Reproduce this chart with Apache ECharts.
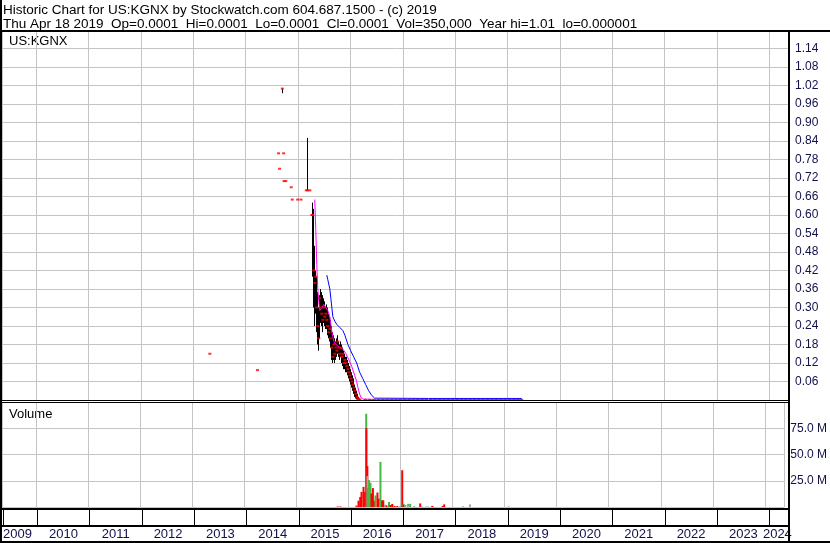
<!DOCTYPE html>
<html><head><meta charset="utf-8">
<script src="https://cdn.jsdelivr.net/npm/echarts@6/dist/echarts.min.js"></script>
<style>html,body{margin:0;padding:0;background:#fff;overflow:hidden}#c{width:830px;height:543px}</style>
</head><body><div id="c"></div>
<script>
// ---------- text ----------
const headerLine1 = 'Historic Chart for US:KGNX by Stockwatch.com 604.687.1500 - (c) 2019';
const headerLine2 = 'Thu Apr 18 2019  Op=0.0001  Hi=0.0001  Lo=0.0001  Cl=0.0001  Vol=350,000  Year hi=1.01  lo=0.000001';
const symbolLabel = 'US:KGNX';
const volumeLabel = 'Volume';
const yearLabels = ['2009','2010','2011','2012','2013','2014','2015','2016','2017','2018','2019','2020','2021','2022','2023','2024'];
const yearLabelPos = [2009.62,2010.5,2011.5,2012.5,2013.5,2014.5,2015.5,2016.5,2017.5,2018.5,2019.5,2020.5,2021.5,2022.5,2023.5,2024.15];

// ---------- price data ----------
const priceDates = [
 '2013-04-27','2014-03-25','2014-08-19','2014-08-26','2014-09-14','2014-09-23','2014-09-26','2014-10-08',
 '2014-11-15','2014-11-22','2014-12-30','2015-01-22','2015-02-28','2015-03-10','2015-03-25','2015-04-08',
 '2015-04-14','2015-04-21','2015-04-28','2015-05-05','2015-05-12','2015-05-19','2015-05-26','2015-06-02',
 '2015-06-09','2015-06-16','2015-06-23','2015-06-30','2015-07-07','2015-07-14','2015-07-21','2015-07-28',
 '2015-08-04','2015-08-11','2015-08-18','2015-08-25','2015-09-01','2015-09-08','2015-09-15','2015-09-22',
 '2015-09-29','2015-10-06','2015-10-13','2015-10-20','2015-10-27','2015-11-03','2015-11-10','2015-11-17',
 '2015-11-24','2015-12-01','2015-12-08','2015-12-15','2015-12-22','2015-12-29','2016-01-05','2016-01-12',
 '2016-01-19','2016-01-26','2016-02-02','2016-02-09','2016-02-16','2016-02-23','2016-03-01','2016-03-08',
 '2016-04-15','2016-05-15','2016-06-15','2016-07-15','2016-08-15','2016-09-15','2016-10-15','2016-11-15','2016-12-15',
 '2017-01-15','2017-02-15','2017-03-15','2017-04-15','2017-05-15','2017-06-15','2017-07-15','2017-08-15','2017-09-15','2017-10-15','2017-11-15','2017-12-15',
 '2018-01-15','2018-02-15','2018-03-15','2018-04-15','2018-05-15','2018-06-15','2018-07-15','2018-08-15','2018-09-15','2018-10-15','2018-11-15','2018-12-15',
 '2019-01-15','2019-02-15','2019-03-15','2019-04-10'
];
const priceHigh = [
 0.15,0.097,0.80,0.75,1.01,0.80,0.71,0.71,
 0.69,0.65,0.65,0.65,0.68,0.85,0.68,0.60,
 0.64,0.62,0.50,0.42,0.40,0.35,0.30,0.34,
 0.36,0.35,0.34,0.33,0.32,0.30,0.31,0.30,
 0.28,0.27,0.26,0.24,0.22,0.21,0.20,0.19,
 0.20,0.21,0.19,0.18,0.19,0.18,0.17,0.16,
 0.15,0.14,0.14,0.13,0.12,0.11,0.10,0.09,
 0.08,0.07,0.05,0.04,0.03,0.02,0.01,0.005,
 0.0008,0.0006,0.0005,0.0005,0.0004,0.0004,0.0003,0.0003,0.0003,
 0.0003,0.0002,0.0002,0.0002,0.0002,0.0002,0.0002,0.0002,0.0002,0.0002,0.0002,0.0002,
 0.0001,0.0001,0.0001,0.0001,0.0001,0.0001,0.0001,0.0001,0.0001,0.0001,0.0001,0.0001,
 0.0001,0.0001,0.0001,0.0001
];
const priceLow = [
 0.15,0.097,0.80,0.75,0.995,0.80,0.71,0.71,
 0.69,0.65,0.65,0.65,0.68,0.68,0.68,0.60,
 0.40,0.30,0.24,0.28,0.22,0.18,0.16,0.20,
 0.25,0.24,0.22,0.25,0.24,0.23,0.23,0.21,
 0.20,0.19,0.17,0.13,0.12,0.13,0.12,0.13,
 0.14,0.15,0.14,0.13,0.14,0.12,0.11,0.10,
 0.10,0.09,0.09,0.08,0.07,0.06,0.05,0.04,
 0.03,0.02,0.01,0.005,0.002,0.001,0.0005,0.0003,
 0.0003,0.0003,0.0002,0.0002,0.0002,0.0002,0.0002,0.0002,0.0002,
 0.0001,0.0001,0.0001,0.0001,0.0001,0.0001,0.0001,0.0001,0.0001,0.0001,0.0001,0.0001,
 0.0001,0.0001,0.0001,0.0001,0.0001,0.0001,0.0001,0.0001,0.0001,0.0001,0.0001,0.0001,
 0.0001,0.0001,0.0001,0.0001
];
const priceClose = [
 0.15,0.097,0.80,0.75,1.01,0.80,0.71,0.71,
 0.69,0.65,0.65,0.65,0.68,0.68,0.68,0.60,
 0.60,0.42,0.38,0.40,0.30,0.24,0.20,0.33,
 0.30,0.28,0.26,0.30,0.27,0.28,0.26,0.24,
 0.22,0.23,0.20,0.17,0.14,0.18,0.15,0.17,
 0.16,0.19,0.17,0.15,0.17,0.14,0.15,0.12,
 0.13,0.12,0.11,0.10,0.09,0.08,0.07,0.06,
 0.05,0.04,0.03,0.02,0.01,0.005,0.002,0.001,
 0.0005,0.0004,0.0004,0.0003,0.0003,0.0003,0.0002,0.0002,0.0002,
 0.0002,0.0002,0.0001,0.0001,0.0001,0.0001,0.0001,0.0001,0.0001,0.0001,0.0001,0.0001,
 0.0001,0.0001,0.0001,0.0001,0.0001,0.0001,0.0001,0.0001,0.0001,0.0001,0.0001,0.0001,
 0.0001,0.0001,0.0001,0.0001
];

// moving averages
const maShortDates = ['2015-04-28','2015-05-05','2015-05-12','2015-05-19','2015-05-26','2015-06-02','2015-06-16','2015-06-30',
 '2015-07-14','2015-07-28','2015-08-11','2015-08-25','2015-09-08','2015-09-22','2015-10-06','2015-10-20','2015-11-10',
 '2015-12-01','2015-12-22','2016-01-10','2016-01-31','2016-02-14','2016-02-28','2016-03-13','2016-03-27',
 '2016-06-30','2017-06-30','2018-06-30','2019-04-10'];
const maShortValues = [0.65,0.55,0.44,0.36,0.32,0.29,0.30,0.31,
 0.30,0.29,0.27,0.22,0.19,0.18,0.175,0.17,0.165,
 0.15,0.13,0.11,0.08,0.06,0.03,0.01,0.003,
 0.002,0.002,0.002,0.002];
const maLongDates = ['2015-07-21','2015-07-28','2015-08-11','2015-08-18','2015-09-01','2015-09-15','2015-09-29','2015-10-20',
 '2015-11-10','2015-11-24','2015-12-15','2016-01-03','2016-01-24','2016-02-14','2016-03-06','2016-03-27','2016-04-17',
 '2016-05-08','2016-05-29','2016-06-19','2016-06-26','2017-06-30','2018-06-30','2019-04-10'];
const maLongValues = [0.405,0.39,0.36,0.33,0.27,0.255,0.245,0.235,
 0.225,0.21,0.18,0.16,0.14,0.12,0.09,0.07,0.05,
 0.03,0.015,0.006,0.005,0.005,0.005,0.005];

// ---------- volume data (millions) ----------
const volDates = ['2015-10-19','2015-11-07','2016-02-28','2016-03-13','2016-03-25','2016-04-03','2016-04-17','2016-04-28',
 '2016-05-06','2016-05-07','2016-05-14','2016-05-15','2016-05-16','2016-05-26','2016-06-05','2016-06-12','2016-06-22',
 '2016-07-01','2016-07-10','2016-07-24','2016-08-02','2016-08-14','2016-08-25','2016-08-26','2016-09-03','2016-09-15',
 '2016-09-16','2016-09-26','2016-10-13','2016-10-24','2016-11-05','2016-11-21','2016-12-10','2016-12-31','2017-01-14',
 '2017-01-23','2017-01-24','2017-02-04','2017-02-05','2017-02-25','2017-02-26','2017-03-11','2017-04-08','2017-05-20',
 '2017-05-30','2017-07-01','2017-07-15','2017-08-12','2017-08-13','2017-10-24','2017-11-04','2018-03-16','2018-05-04','2019-01-28'];
const volValues = [0.5,0.5,1.4,6,9.6,14.4,19.2,14.4,
 88.8,75,39,29.4,18,25.6,23,12.8,18,
 6,11,13.8,8,43,6.5,6,6.4,2,
 2,1.5,4.8,2,2.9,1,1,1,35,
 3,2,2,1.5,3,1.5,3,1,3.4,
 1,0.5,0.5,1,1,1,2.5,0.5,2.5,0.5];
const volDir = ['d','d','d','d','d','d','d','d',
 'u','d','d','n','u','u','u','d','d',
 'd','u','d','d','u','u','d','d','u',
 'n','d','u','d','d','d','d','n','d',
 'u','d','u','n','u','n','u','n','d',
 'n','n','n','n','d','d','d','u','n','n'];

// ---------- build ----------
function toYear(s){const p=s.split('-').map(Number);const t=Date.UTC(p[0],p[1]-1,p[2]),a=Date.UTC(p[0],0,1),b=Date.UTC(p[0]+1,0,1);return p[0]+(t-a)/(b-a);}
const X_MIN = 2009.351, X_MAX = 2024.372;
const GRID = '#c4c4c4', LBL = '#10104a';
const FONT = '"Liberation Sans", Arial, sans-serif';
const dirColor = {d:'#ff0000', u:'#44b844', n:'#a8a8a8'};

const candleData = priceDates.map((d,i)=>[toYear(d), priceClose[i], priceClose[i], priceLow[i], priceHigh[i]]);
const closeData = priceDates.map((d,i)=>[toYear(d), priceClose[i]]);
const maShortData = maShortDates.map((d,i)=>[toYear(d), maShortValues[i]]);
const maLongData = maLongDates.map((d,i)=>[toYear(d), maLongValues[i]]);
const volData = volDates.map((d,i)=>({value:[toYear(d), volValues[i]], itemStyle:{color:dirColor[volDir[i]]}}));

function xAx(grid, split){
  return {type:'value', gridIndex:grid, min:X_MIN, max:X_MAX, splitNumber:15,
    axisLine:{show:false}, axisTick:{show:false}, axisLabel:{show:false},
    splitLine:{show:true, lineStyle:{color:split, width:1}}};
}

const chart = echarts.init(document.getElementById('c'), null, {renderer:'canvas'});
chart.setOption({
  animation:false,
  backgroundColor:'#ffffff',
  grid:[
    {left:2, right:41, top:30, height:370},
    {left:2, right:41, top:402, height:105},
    {left:2, right:41, top:510, height:15}
  ],
  xAxis:[
    xAx(0, GRID), xAx(1, GRID), xAx(2, '#000000'),
    {type:'value', gridIndex:2, min:X_MIN, max:X_MAX, position:'bottom',
     axisLine:{show:false}, axisTick:{show:false}, splitLine:{show:false},
     axisLabel:{show:true, customValues:yearLabelPos, margin:3, color:LBL,
       fontFamily:FONT, fontSize:13,
       formatter:(v)=>{const i=yearLabelPos.findIndex(p=>Math.abs(p-v)<1e-6);return i>=0?yearLabels[i]:'';}}}
  ],
  yAxis:[
    {type:'value', gridIndex:0, position:'right', min:0, max:1.2, interval:0.06,
     axisLine:{show:false}, axisTick:{show:false},
     splitLine:{show:true, lineStyle:{color:GRID}},
     axisLabel:{margin:6, color:LBL, fontFamily:FONT, fontSize:12, showMinLabel:false, showMaxLabel:false,
       formatter:(v)=>v.toFixed(2)}},
    {type:'value', gridIndex:1, position:'right', min:0, max:100, interval:25,
     axisLine:{show:false}, axisTick:{show:false},
     splitLine:{show:true, lineStyle:{color:GRID}},
     axisLabel:{margin:6, color:LBL, fontFamily:FONT, fontSize:12, showMinLabel:false, showMaxLabel:false,
       formatter:(v)=>v.toFixed(1)+' M'}},
    {type:'value', gridIndex:2, min:0, max:1, show:false, splitLine:{show:false}}
  ],
  series:[
    {type:'candlestick', xAxisIndex:0, yAxisIndex:0, data:candleData, barWidth:1,
     encode:{x:0, y:[1,2,3,4]},
     itemStyle:{color:'#000', color0:'#000', borderColor:'#000', borderColor0:'#000', borderWidth:1},
     emphasis:{disabled:true}, silent:true, z:2},
    {type:'line', xAxisIndex:0, yAxisIndex:0, data:maLongData, showSymbol:false, symbol:'none',
     lineStyle:{color:'#0000ff', width:1}, silent:true, z:3},
    {type:'line', xAxisIndex:0, yAxisIndex:0, data:maShortData, showSymbol:false, symbol:'none',
     lineStyle:{color:'#ff00ff', width:1}, silent:true, z:4},
    {type:'scatter', xAxisIndex:0, yAxisIndex:0, data:closeData, symbol:'rect', symbolSize:[3,2],
     itemStyle:{color:'#ff0000'}, silent:true, z:5},
    {type:'bar', xAxisIndex:1, yAxisIndex:1, data:volData, barWidth:2, silent:true, z:2}
  ],
  graphic:[
    {type:'text', left:3, top:3, style:{text:headerLine1, font:'13.5px '+FONT, fill:'#000'}},
    {type:'text', left:3, top:17, style:{text:headerLine2, font:'13.5px '+FONT, fill:'#000'}},
    {type:'text', left:9, top:35, style:{text:symbolLabel, font:'13px '+FONT, fill:'#000'}},
    {type:'text', left:9, top:408, style:{text:volumeLabel, font:'13px '+FONT, fill:'#000'}},
    {type:'rect', shape:{x:0,y:0,width:2,height:543}, style:{fill:'#000'}, z:100},
    {type:'rect', shape:{x:0,y:30,width:830,height:2}, style:{fill:'#000'}, z:100},
    {type:'rect', shape:{x:788,y:30,width:2,height:513}, style:{fill:'#000'}, z:100},
    {type:'rect', shape:{x:0,y:400,width:789,height:1}, style:{fill:'#000'}, z:100},
    {type:'rect', shape:{x:0,y:402,width:789,height:1}, style:{fill:'#000'}, z:100},
    {type:'rect', shape:{x:0,y:508,width:789,height:2}, style:{fill:'#000'}, z:100},
    {type:'rect', shape:{x:0,y:525,width:789,height:2}, style:{fill:'#000'}, z:100},
    {type:'rect', shape:{x:0,y:541,width:830,height:2}, style:{fill:'#000'}, z:100}
  ]
});
</script></body></html>
